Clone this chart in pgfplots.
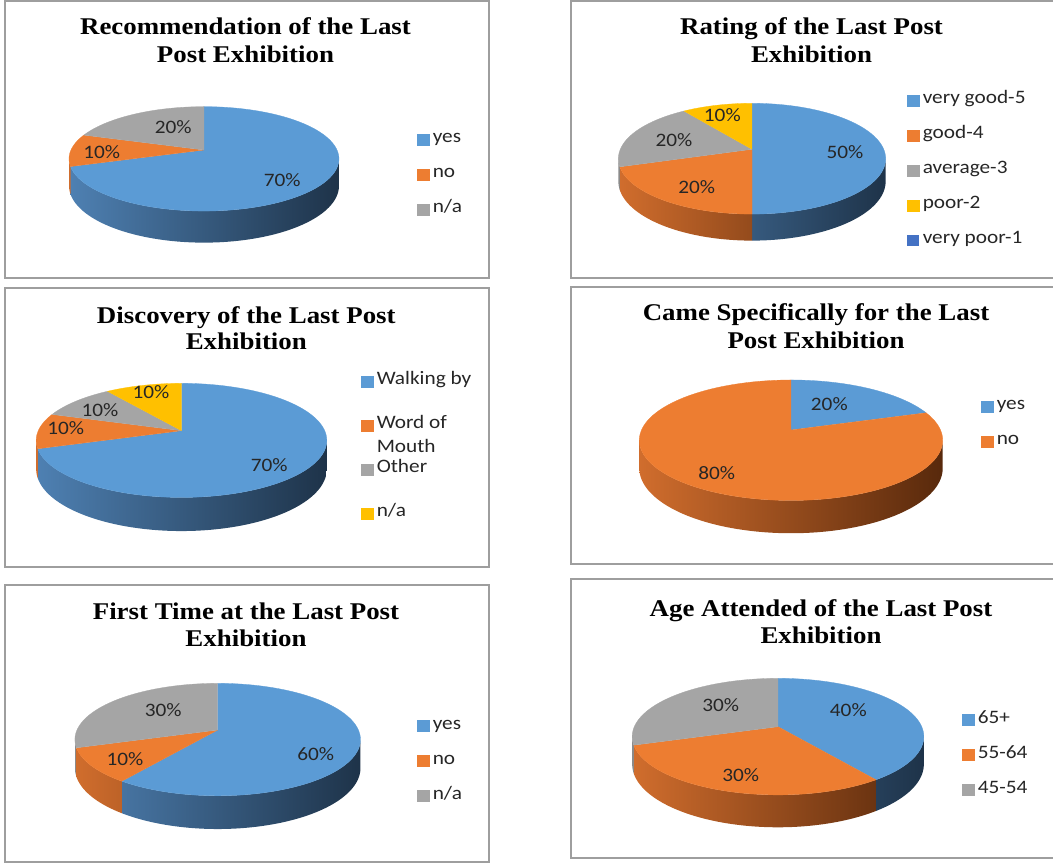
\documentclass[border=0pt]{standalone}
\usepackage{fontspec}
\usepackage{pgfplots}
\pgfplotsset{compat=1.18}
\newfontfamily\carl[FakeStretch=1.12]{Carlito}
\newfontfamily\titf[FakeStretch=1.12]{Liberation Serif}
\newcommand\legf{\carl\fontsize{19}{24}\selectfont}
\newcommand\titfont{\titf\bfseries\fontsize{24}{28}\selectfont}
\definecolor{cblue}{HTML}{5B9BD5}
\definecolor{corange}{HTML}{ED7D31}
\definecolor{cgray}{HTML}{A5A5A5}
\definecolor{cyellow}{HTML}{FFC000}
\definecolor{cdblue}{HTML}{4472C4}
\definecolor{bL}{HTML}{4E80B2}
\definecolor{bD}{HTML}{1E3349}
\definecolor{oL}{HTML}{D06D2D}
\definecolor{oD}{HTML}{58290C}
\definecolor{gL}{HTML}{8A8A8A}
\def\pp{0.17}
% top face of one slice, angles a..b (counter-clockwise, degrees)
\newcommand{\pietop}[3]{%
 \def\TT{((#2)+((#3)-(#2))*min(x,100)/100)}%
 \addplot[fill=#1, draw=#1, line width=0.3pt, samples at={0,1,...,101}]
 ({\cx+ifthenelse(x>100,0,\rx*cos(\TT)/(1+\pp*sin(\TT)))},
  {\cy+ifthenelse(x>100,0,\ry*sin(\TT)/(1+\pp*sin(\TT)))});
}
% visible side wall of one slice, angles a..b
\newcommand{\pieside}[4]{%
 \def\TS{(ifthenelse(x<=100,(#1)+((#2)-(#1))*x/100,(#2)-((#2)-(#1))*(x-101)/100))}%
 \addplot[forget plot, draw=none, left color=#3, right color=#4, samples at={0,1,...,201}]
 ({\cx+\rx*cos(\TS)/(1+\pp*sin(\TS))},
  {\cy+(\ry*sin(\TS)-ifthenelse(x>100,\dd,0))/(1+\pp*sin(\TS))});
}
\pgfplotsset{pie/.style={scale only axis, width=1053pt, height=867pt,
  xmin=0, xmax=1053, ymin=0, ymax=867, hide axis, clip=false,
  legend cell align=left,
  legend image code/.code={\fill[##1] (0pt,-6.7pt) rectangle (12pt,4.3pt);},
  legend style={anchor=north west, draw=none, fill=none, inner sep=0pt, outer sep=0pt,
    font=\legf, text=black!85, row sep=16pt, column sep=3.5pt,
    nodes={inner sep=0pt, text height=14pt, text depth=5pt}}}}
\tikzset{lab/.style={font=\legf, text=black!85, inner sep=0pt},
  tit/.style={font=\titfont, anchor=base, inner sep=0pt},
  bord/.style={draw=black!38, line width=1.6pt}}
\begin{document}
\begin{tikzpicture}[x=1pt,y=1pt]
\draw[bord] (5,866) rectangle (489,589);
\draw[bord] (1053,866) -- (571,866) -- (571,589) -- (1053,589);
\draw[bord] (5,579) rectangle (489,300);
\draw[bord] (1053,580) -- (571,580) -- (571,303) -- (1053,303);
\draw[bord] (5,282) rectangle (489,5);
\draw[bord] (1053,288) -- (571,288) -- (571,9) -- (1053,9);

% ---------- P1 Recommendation
\def\cx{204}\def\cy{717}\def\rx{133}\def\ry{50.7}\def\dd{26.2}
\begin{axis}[pie, legend style={at={(0.3960,0.8512)}}]
\pieside{-162}{-9.79}{bL}{bD}
\pieside{189.79}{198}{oL}{oL}
\pietop{cblue}{-162}{90}\addlegendentry{yes}
\pietop{corange}{162}{198}\addlegendentry{no}
\pietop{cgray}{90}{162}\addlegendentry{n/a}
\node[lab] at (axis cs:282.3,687) {70\%};
\node[lab] at (axis cs:101.7,715.3) {10\%};
\node[lab] at (axis cs:173.3,739.7) {20\%};
\node[tit] at (axis cs:245.5,832) {Recommendation of the Last};
\node[tit] at (axis cs:245.5,804.3) {Post Exhibition};
\end{axis}

% ---------- P2 Rating
\def\cx{752}\def\cy{717.7}\def\rx{131.7}\def\ry{53.8}\def\dd{22}
\begin{axis}[pie, legend style={at={(0.8613,0.8962)}}]
\pieside{-90}{-9.79}{bL!50!bD}{bD}
\pieside{198}{270}{oL}{oL!50!oD}
\pieside{189.79}{198}{gL}{gL}
\pietop{cblue}{-90}{90}\addlegendentry{very good-5}
\pietop{corange}{198}{270}\addlegendentry{good-4}
\pietop{cgray}{126}{198}\addlegendentry{average-3}
\pietop{cyellow}{90}{126}\addlegendentry{poor-2}
\addlegendimage{fill=cdblue, draw=none}\addlegendentry{very poor-1}
\node[lab] at (axis cs:845,715.3) {50\%};
\node[lab] at (axis cs:696.7,680.3) {20\%};
\node[lab] at (axis cs:674,727) {20\%};
\node[lab] at (axis cs:722.3,752) {10\%};
\node[tit] at (axis cs:811.5,832) {Rating of the Last Post};
\node[tit] at (axis cs:811.5,804.3) {Exhibition};
\end{axis}

% ---------- P3 Discovery
\def\cx{181.5}\def\cy{436.3}\def\rx{143.2}\def\ry{55.4}\def\dd{27.9}
\begin{axis}[pie, legend style={at={(0.3428,0.5721)}, row sep=25pt}]
\pieside{-162}{-9.79}{bL}{bD}
\pieside{189.79}{198}{oL}{oL}
\pietop{cblue}{-162}{90}\addlegendentry{Walking by}
\pietop{corange}{162}{198}\addlegendentry{\smash{\begin{tabular}[t]{@{}l@{}}Word of\\Mouth\end{tabular}}}
\pietop{cgray}{126}{162}\addlegendentry{Other}
\pietop{cyellow}{90}{126}\addlegendentry{n/a}
\node[lab] at (axis cs:269.3,402) {70\%};
\node[lab] at (axis cs:65.7,438.7) {10\%};
\node[lab] at (axis cs:100,457) {10\%};
\node[lab] at (axis cs:151,475.3) {10\%};
\node[tit] at (axis cs:246.3,543.7) {Discovery of the Last Post};
\node[tit] at (axis cs:246.3,517) {Exhibition};
\end{axis}

% ---------- P4 Came specifically
\def\cx{791}\def\cy{437}\def\rx{149.5}\def\ry{58.5}\def\dd{27.2}
\begin{axis}[pie, legend style={at={(0.9316,0.5433)}}]
\pieside{189.79}{350.21}{oL}{oD}
\pietop{cblue}{18}{90}\addlegendentry{yes}
\pietop{corange}{90}{378}\addlegendentry{no}
\node[lab] at (axis cs:829.3,463) {20\%};
\node[lab] at (axis cs:716.7,393.7) {80\%};
\node[tit] at (axis cs:816,546) {Came Specifically for the Last};
\node[tit] at (axis cs:816,518.7) {Post Exhibition};
\end{axis}

% ---------- P5 First time
\def\cx{217.7}\def\cy{137}\def\rx{140.7}\def\ry{54.6}\def\dd{27.6}
\begin{axis}[pie, legend style={at={(0.3960,0.1753)}}]
\pieside{-126}{-9.79}{bL!84!bD}{bD}
\pieside{198}{234}{oL}{oL!84!oD}
\pieside{189.79}{198}{gL}{gL}
\pietop{cblue}{-126}{90}\addlegendentry{yes}
\pietop{corange}{198}{234}\addlegendentry{no}
\pietop{cgray}{90}{198}\addlegendentry{n/a}
\node[lab] at (axis cs:315.7,113) {60\%};
\node[lab] at (axis cs:125,108) {10\%};
\node[lab] at (axis cs:163.3,157) {30\%};
\node[tit] at (axis cs:246,247) {First Time at the Last Post};
\node[tit] at (axis cs:246,220.3) {Exhibition};
\end{axis}

% ---------- P6 Age
\def\cx{778}\def\cy{140.3}\def\rx{143.7}\def\ry{56.6}\def\dd{26.9}
\begin{axis}[pie, legend style={at={(0.9136,0.1819)}}]
\pieside{-54}{-9.79}{bL!16!bD}{bD}
\pieside{198}{306}{oL}{oL!16!oD}
\pieside{189.79}{198}{gL}{gL}
\pietop{cblue}{-54}{90}\addlegendentry{65+}
\pietop{corange}{198}{306}\addlegendentry{55-64}
\pietop{cgray}{90}{198}\addlegendentry{45-54}
\node[lab] at (axis cs:848.3,157) {40\%};
\node[lab] at (axis cs:740.7,92) {30\%};
\node[lab] at (axis cs:720.7,162) {30\%};
\node[tit] at (axis cs:821,250.3) {Age Attended of the Last Post};
\node[tit] at (axis cs:821,223.7) {Exhibition};
\end{axis}
\pgfresetboundingbox
\path[use as bounding box] (0,0) rectangle (1053,867);
\end{tikzpicture}
\end{document}
